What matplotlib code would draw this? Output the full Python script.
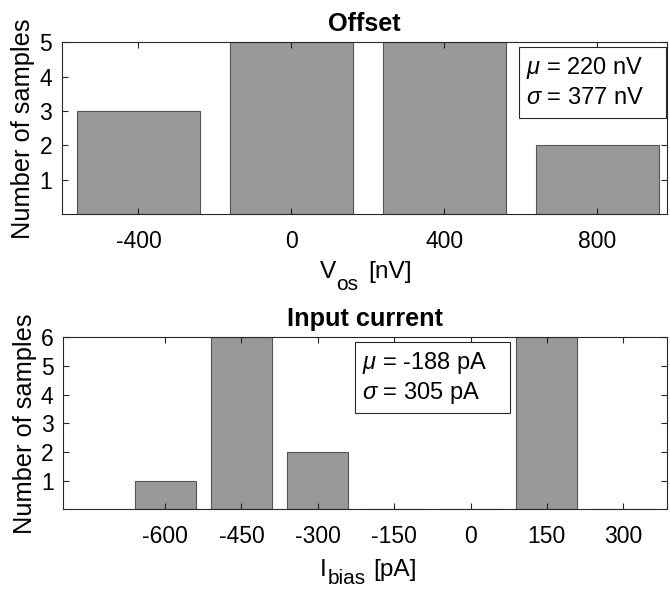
import matplotlib
matplotlib.use("Agg")
import matplotlib.pyplot as plt
from matplotlib.patches import Rectangle

plt.rcParams["font.family"] = ["Liberation Sans", "DejaVu Sans"]
plt.rcParams["mathtext.fontset"] = "custom"
plt.rcParams["mathtext.rm"] = "Liberation Sans"
plt.rcParams["mathtext.it"] = "Liberation Sans:italic"
plt.rcParams["mathtext.bf"] = "Liberation Sans:bold"

# ---- data ----
vos_centers = [-400, 0, 400, 800]
vos_counts = [3, 5, 5, 2]
vos_mu, vos_sigma = 220, 377

ibias_centers = [-600, -450, -300, -150, 0, 150, 300]
ibias_counts = [1, 6, 2, 0, 0, 6, 0]
ibias_mu, ibias_sigma = -188, 305

BAR_FACE = "#999999"
BAR_EDGE = "#555555"
AX_COL = "#262626"
W, H = 670, 589


def style_axes(ax):
    for s in ax.spines.values():
        s.set_color(AX_COL)
        s.set_linewidth(0.8)
    ax.tick_params(direction="in", top=True, right=True, length=4,
                   labelsize=16.5, colors=AX_COL, labelcolor="black")
    ax.tick_params(axis="x", pad=11)
    ax.tick_params(axis="y", pad=7)


def stat_box(ax, x0, y0, x1, y1, tx, lines):
    ax.add_patch(Rectangle((x0, y0), x1 - x0, y1 - y0, transform=ax.transAxes,
                           facecolor="white", edgecolor=AX_COL, lw=0.8, zorder=5))
    for ty, s in zip((0.85, 0.675), lines):
        ax.text(tx, ty, s, transform=ax.transAxes, fontsize=17,
                va="center", ha="left", zorder=6)


def sub_label(parts):
    # parts: (text, left px, baseline px, size)
    for s, x, y, fs in parts:
        fig.text(x / W, 1 - y / H, s, fontsize=fs, ha="left", va="baseline")


fig = plt.figure(figsize=(6.7, 5.89), dpi=100)

# ---- Offset ----
ax1 = fig.add_axes([0.0925, 0.6362, 0.903, 0.292])
ax1.bar(vos_centers, vos_counts, width=320, color=BAR_FACE, edgecolor=BAR_EDGE, lw=0.8)
ax1.set_xlim(-600, 982)
ax1.set_ylim(0, 5)
ax1.set_xticks(vos_centers)
ax1.set_xticklabels([str(v) for v in vos_centers])
ax1.set_yticks([1, 2, 3, 4, 5])
style_axes(ax1)
ax1.set_title("Offset", fontsize=18.2, fontweight="bold", pad=8)
ax1.set_ylabel("Number of samples", fontsize=18.3, labelpad=3)
stat_box(ax1, 0.756, 0.558, 0.998, 0.971, 0.767,
         [rf"$\mu$ = {vos_mu} nV", rf"$\sigma$ = {vos_sigma} nV"])

# ---- Input current ----
ax2 = fig.add_axes([0.0945, 0.1353, 0.901, 0.292])
ax2.bar(ibias_centers, ibias_counts, width=120, color=BAR_FACE, edgecolor=BAR_EDGE, lw=0.8)
ax2.set_xlim(-800, 386)
ax2.set_ylim(0, 6)
ax2.set_xticks(ibias_centers)
ax2.set_xticklabels([str(v) for v in ibias_centers])
ax2.set_yticks([1, 2, 3, 4, 5, 6])
style_axes(ax2)
ax2.set_title("Input current", fontsize=18.2, fontweight="bold", pad=8)
ax2.set_ylabel("Number of samples", fontsize=18.3, labelpad=3)
stat_box(ax2, 0.484, 0.558, 0.740, 0.971, 0.495,
         [rf"$\mu$ = {ibias_mu} pA", rf"$\sigma$ = {ibias_sigma} pA"])

# x labels with low-set subscripts
sub_label([("V", 320, 278, 17.6), ("os", 336, 290, 15), ("[nV]", 368, 278, 17.6)])
sub_label([("I", 320, 576, 17.6), ("bias", 327.5, 584.5, 15), ("[pA]", 373, 576, 17.6)])

fig.savefig("out.png", dpi=100)
